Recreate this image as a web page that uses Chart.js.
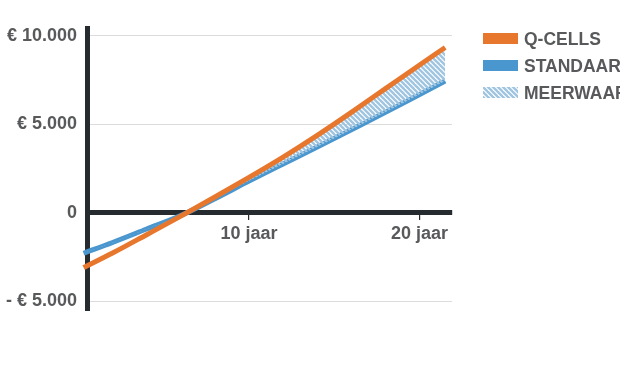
<!DOCTYPE html>
<html>
<head>
<meta charset="utf-8">
<script src="https://cdn.jsdelivr.net/npm/chart.js@4/dist/chart.umd.min.js"></script>
<style>
  html, body { margin: 0; padding: 0; background: #fff; width: 620px; height: 365px; overflow: hidden; }
  #wrap { position: relative; width: 620px; height: 365px; overflow: hidden; }
  canvas { position: absolute; left: 0; top: 0; }
  .lg-box { position: absolute; left: 483px; width: 35px; height: 10.5px; }
  .lg-txt { position: absolute; left: 524px; font-family: "Liberation Sans", Arial, sans-serif; font-weight: bold; font-size: 17.5px; line-height: 17.5px; color: #58595b; white-space: nowrap; }
</style>
</head>
<body>
<div id="wrap">
  <canvas id="c" width="620" height="365"></canvas>
  <div class="lg-box" id="b0" style="top:33px;"></div>
  <div class="lg-txt" id="t0" style="top:31px;"></div>
  <div class="lg-box" id="b1" style="top:60px;"></div>
  <div class="lg-txt" id="t1" style="top:58px;"></div>
  <canvas class="lg-box" id="b2" width="35" height="11" style="top:87px;height:11px;"></canvas>
  <div class="lg-txt" id="t2" style="top:85px;"></div>
</div>
<script>
// ---- data ----
const seriesNames = ['Q-CELLS', 'STANDAARD', 'MEERWAARDE'];
const years = [0.3, 2, 4, 6, 8, 10, 12, 14, 16, 18, 20, 21.5];
const qcells = [-3100, -2280, -1240, -190, 890, 2000, 3150, 4380, 5680, 7020, 8360, 9350];
const standaard = [-2290, -1680, -920, -160, 790, 1790, 2760, 3720, 4700, 5680, 6690, 7450];
const yTickValues = [-5000, 0, 5000, 10000];
const yTickLabels = ['- € 5.000', '0', '€ 5.000', '€ 10.000'];
const xTickValues = [10, 20];
const xTickLabels = ['10 jaar', '20 jaar'];

const ORANGE = '#e8772e';
const BLUE = '#4a96ce';
const HATCH = '#9fc5e0';
const DARK = '#262b30';
const TEXT = '#58595b';

function makeHatch(ctx) {
  const s = 5;
  const pc = document.createElement('canvas');
  pc.width = s; pc.height = s;
  const p = pc.getContext('2d');
  p.strokeStyle = HATCH;
  p.lineWidth = 2.4;
  for (const x0 of [-s, 0, s]) {
    p.beginPath();
    p.moveTo(x0 - 1, -1);
    p.lineTo(x0 + s + 1, s + 1);
    p.stroke();
  }
  return ctx.createPattern(pc, 'repeat');
}

const ctx = document.getElementById('c').getContext('2d');
const hatch = makeHatch(ctx);

// legend
document.getElementById('b0').style.background = ORANGE;
document.getElementById('b1').style.background = BLUE;
const lctx = document.getElementById('b2').getContext('2d');
lctx.fillStyle = makeHatch(lctx);
lctx.fillRect(0, 0, 35, 11);
['t0', 't1', 't2'].forEach((id, i) => document.getElementById(id).textContent = seriesNames[i]);

const font = { family: '"Liberation Sans", Arial, sans-serif', weight: 'bold', size: 18 };

new Chart(ctx, {
  type: 'line',
  data: {
    datasets: [
      {
        label: seriesNames[0],
        data: years.map((x, i) => ({ x, y: qcells[i] })),
        borderColor: ORANGE,
        borderWidth: 5,
        pointRadius: 0,
        tension: 0.3,
        cubicInterpolationMode: 'monotone',
        clip: false,
        fill: { target: 1, above: hatch, below: 'rgba(0,0,0,0)' },
        order: 0
      },
      {
        label: seriesNames[1],
        data: years.map((x, i) => ({ x, y: standaard[i] })),
        borderColor: BLUE,
        borderWidth: 5,
        pointRadius: 0,
        tension: 0.3,
        cubicInterpolationMode: 'monotone',
        clip: false,
        fill: false,
        order: 1
      }
    ]
  },
  options: {
    responsive: false,
    animation: false,
    events: [],
    layout: { padding: { left: 0, top: 28, right: 168, bottom: 55 } },
    plugins: { legend: { display: false }, tooltip: { enabled: false } },
    scales: {
      x: {
        type: 'linear',
        min: 0.5,
        max: 21.9,
        position: { y: 0 },
        afterBuildTicks: s => { s.ticks = xTickValues.map(v => ({ value: v })); },
        ticks: {
          callback: (v) => xTickLabels[xTickValues.indexOf(v)],
          color: TEXT,
          font: font,
          padding: 5,
          maxRotation: 0
        },
        grid: { drawOnChartArea: false, drawTicks: true, tickLength: 5, color: DARK, lineWidth: 1.2 },
        border: { display: true, color: DARK, width: 5 }
      },
      y: {
        type: 'linear',
        min: -5500,
        max: 10450,
        afterFit: s => { s.width = 87; },
        afterBuildTicks: s => { s.ticks = yTickValues.map(v => ({ value: v })); },
        ticks: {
          callback: (v) => yTickLabels[yTickValues.indexOf(v)],
          color: TEXT,
          font: font,
          padding: 10
        },
        grid: {
          drawTicks: false,
          color: c => (c.tick && c.tick.value === 0) ? 'rgba(0,0,0,0)' : '#dcdcdc',
          lineWidth: 1
        },
        border: { display: true, color: DARK, width: 5 }
      }
    }
  }
});
</script>
</body>
</html>
